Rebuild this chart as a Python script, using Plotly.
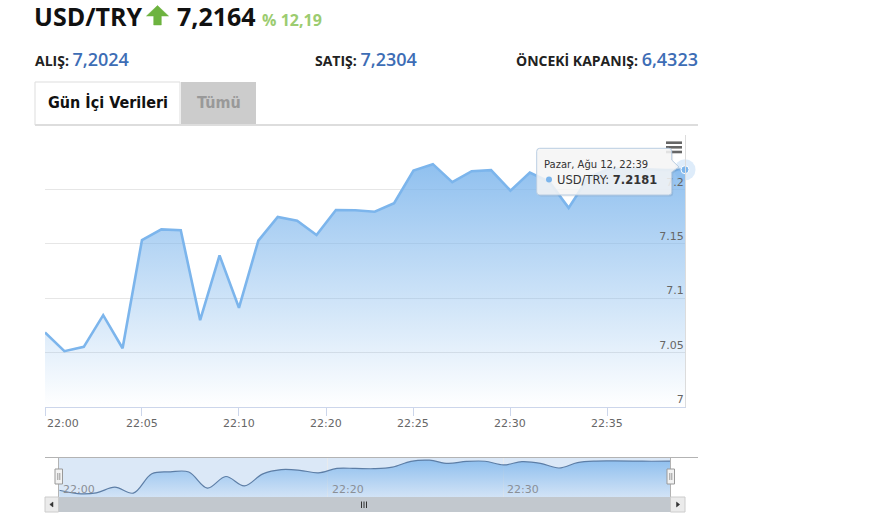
import numpy as np
import plotly.graph_objects as go

W, H = 880, 515

# ---------------- data ----------------
pair = "USD/TRY"
last_price = "7,2164"
change_pct = "% 12,19"
bid_label, bid_value = "ALIŞ:", "7,2024"
ask_label, ask_value = "SATIŞ:", "7,2304"
prev_label, prev_value = "ÖNCEKİ KAPANIŞ:", "6,4323"
tab_labels = ["Gün İçi Verileri", "Tümü"]
tooltip_day = "Pazar, Ağu 12"
series_name = "USD/TRY"

times = ["22:00", "22:01", "22:02", "22:03", "22:04", "22:05", "22:06", "22:07",
         "22:08", "22:09", "22:10", "22:11", "22:12", "22:13", "22:19", "22:21",
         "22:22", "22:23", "22:24", "22:25", "22:26", "22:27", "22:28", "22:29",
         "22:30", "22:31", "22:32", "22:33", "22:34", "22:35", "22:36", "22:37",
         "22:38", "22:39"]
values = [7.0685, 7.0513, 7.0553, 7.0844, 7.0540, 7.1535, 7.1633, 7.1624,
          7.0798, 7.1394, 7.0912, 7.1529, 7.1747, 7.1713, 7.1581, 7.1811,
          7.1809, 7.1795, 7.1873, 7.2173, 7.2232, 7.2066, 7.2167, 7.2177,
          7.1989, 7.2155, 7.2070, 7.1830, 7.2105, 7.2185, 7.2192, 7.2188,
          7.2178, 7.2181]
x_tick_labels = ["22:00", "22:05", "22:10", "22:20", "22:25", "22:30", "22:35"]
nav_tick_labels = ["22:00", "22:20", "22:30"]
y_tick_vals = [7.0, 7.05, 7.1, 7.15, 7.2, 7.25]
y_tick_text = ["7", "7.05", "7.1", "7.15", "7.2", ""]

# ordinal axis: position = point index, labels interpolated in time
idx = np.arange(len(times))
def mins(t):
    h, m = t.split(":")
    return int(h) * 60 + int(m)
tmin = np.array([mins(t) for t in times])
x_tick_pos = np.interp([mins(t) for t in x_tick_labels], tmin, idx)
nav_tick_pos = np.interp([mins(t) for t in nav_tick_labels], tmin, idx)

# ---------------- helpers ----------------
def X(px):
    return px / W

def Y(py):
    return 1 - py / H

def pt(x, y):
    return f"{X(x):.5f},{Y(y):.5f}"

def path(points, closed=True):
    s = "M" + pt(*points[0]) + "".join(" L" + pt(*p) for p in points[1:])
    return s + (" Z" if closed else "")

AX_FONT = "DejaVu Sans, Verdana, sans-serif"
HEAD_FONT = "Open Sans, Noto Sans, sans-serif"
TAB_FONT = "Liberation Sans Narrow, DejaVu Sans Condensed, Roboto, sans-serif"
BLUE = "#7cb5ec"

fig = go.Figure()

# main area series
fig.add_trace(go.Scatter(
    x=idx, y=values, mode="lines", xaxis="x", yaxis="y",
    line=dict(color=BLUE, width=2.6),
    fill="tozeroy",
    fillgradient=dict(type="vertical",
                      colorscale=[[0, "rgba(124,181,236,0)"], [1, "rgba(124,181,236,0.95)"]],
                      start=7.0, stop=7.25),
    hoverinfo="skip", showlegend=False))

# navigator series
fig.add_trace(go.Scatter(
    x=idx, y=values, mode="lines", xaxis="x2", yaxis="y2",
    line=dict(color="#5d7ea6", width=1.2, shape="spline", smoothing=1),
    fill="tozeroy",
    fillgradient=dict(type="vertical",
                      colorscale=[[0, "rgba(124,181,236,0.1)"], [1, "rgba(124,181,236,0.85)"]],
                      start=7.034, stop=7.237),
    hoverinfo="skip", showlegend=False))

# hovered point (last point)
fig.add_trace(go.Scatter(
    x=[idx[-1]], y=[values[-1]], mode="markers", xaxis="x", yaxis="y",
    marker=dict(size=21, color="rgba(124,181,236,0.25)"),
    cliponaxis=False, hoverinfo="skip", showlegend=False))
fig.add_trace(go.Scatter(
    x=[idx[-1]], y=[values[-1]], mode="markers", xaxis="x", yaxis="y",
    marker=dict(size=8, color=BLUE, line=dict(color="white", width=1)),
    cliponaxis=False, hoverinfo="skip", showlegend=False))

shapes = []
annotations = []

# ---------------- header ----------------
annotations.append(dict(xref="paper", yref="paper", x=X(33), y=Y(16), xanchor="left", yanchor="middle",
                        text=f"<b>{pair}</b>", showarrow=False, borderpad=0,
                        font=dict(family=HEAD_FONT, size=25, color="#111")))
shapes.append(dict(type="path", xref="paper", yref="paper", fillcolor="#6db33f",
                   line=dict(color="#6db33f", width=0.5),
                   path=path([(157.5, 5.5), (168.5, 16), (161.3, 16), (161.3, 25),
                              (153.7, 25), (153.7, 16), (146.5, 16)])))
annotations.append(dict(xref="paper", yref="paper", x=X(176), y=Y(16), xanchor="left", yanchor="middle",
                        text=f"<b>{last_price}</b> <span style='font-size:16px;color:#9ccc70'><b>{change_pct}</b></span>",
                        showarrow=False, borderpad=0, font=dict(family=HEAD_FONT, size=25, color="#111")))

def info(x, label, value):
    annotations.append(dict(xref="paper", yref="paper", x=X(x), y=Y(59), xanchor="left", yanchor="middle",
                            text=f"<b>{label}</b> <span style='font-size:18px;color:#3d6db5;font-weight:600'>{value}</span>",
                            showarrow=False, font=dict(family=HEAD_FONT, size=14, color="#222")))
info(33, bid_label, bid_value)
info(313, ask_label, ask_value)
info(514, prev_label, prev_value)

# ---------------- tabs ----------------
shapes.append(dict(type="rect", xref="paper", yref="paper", x0=X(35), x1=X(180), y0=Y(125), y1=Y(82),
                   fillcolor="white", line=dict(color="#dddddd", width=1)))
shapes.append(dict(type="rect", xref="paper", yref="paper", x0=X(181), x1=X(256), y0=Y(125), y1=Y(82),
                   fillcolor="#cccccc", line=dict(width=0)))
shapes.append(dict(type="line", xref="paper", yref="paper", x0=X(35), x1=X(698), y0=Y(125), y1=Y(125),
                   line=dict(color="#dddddd", width=2)))
annotations.append(dict(xref="paper", yref="paper", x=X(107.5), y=Y(103), xanchor="center", yanchor="middle",
                        text=f"<b>{tab_labels[0]}</b>", showarrow=False,
                        font=dict(family=TAB_FONT, size=16, color="#111")))
annotations.append(dict(xref="paper", yref="paper", x=X(218.5), y=Y(103), xanchor="center", yanchor="middle",
                        text=f"<b>{tab_labels[1]}</b>", showarrow=False,
                        font=dict(family=TAB_FONT, size=16, color="#999999")))

# ---------------- main x labels ----------------
for i, (lab, pos) in enumerate(zip(x_tick_labels, x_tick_pos)):
    annotations.append(dict(xref="x", yref="paper", x=pos, y=Y(423), xanchor="left" if i == 0 else "center",
                            yanchor="middle", text=lab, showarrow=False,
                            font=dict(family=AX_FONT, size=11, color="#666666")))

# ---------------- menu icon ----------------
for yy in (142.7, 147.3, 152):
    shapes.append(dict(type="line", xref="paper", yref="paper", x0=X(666), x1=X(682), y0=Y(yy), y1=Y(yy),
                       line=dict(color="#666666", width=2.6)))

# ---------------- navigator ----------------
shapes.append(dict(type="rect", xref="paper", yref="paper", layer="below", x0=X(58.5), x1=X(670.5),
                   y0=Y(497), y1=Y(457.5), fillcolor="#dbe8f7", line=dict(width=0)))
shapes.append(dict(type="line", xref="paper", yref="paper", x0=X(45), x1=X(698), y0=Y(457.5), y1=Y(457.5),
                   line=dict(color="#b3b3b3", width=1)))
for xx in (58.5, 670.5):
    shapes.append(dict(type="line", xref="paper", yref="paper", x0=X(xx), x1=X(xx), y0=Y(457.5), y1=Y(497),
                       line=dict(color="#b3b3b3", width=1)))
for hx in (55, 667):
    shapes.append(dict(type="rect", xref="paper", yref="paper", x0=X(hx), x1=X(hx + 7.5), y0=Y(484), y1=Y(469),
                       fillcolor="#f2f2f2", line=dict(color="#999999", width=1)))
    for lx in (hx + 2.8, hx + 4.8):
        shapes.append(dict(type="line", xref="paper", yref="paper", x0=X(lx), x1=X(lx), y0=Y(473), y1=Y(480),
                           line=dict(color="#999999", width=1)))
for lab, pos in zip(nav_tick_labels, nav_tick_pos):
    annotations.append(dict(xref="x2", yref="paper", x=pos, y=Y(489), xanchor="left", xshift=2,
                            yanchor="middle", text=lab, showarrow=False,
                            font=dict(family=AX_FONT, size=11, color="#8a8f96")))

# ---------------- scrollbar ----------------
shapes.append(dict(type="rect", xref="paper", yref="paper", x0=X(58.5), x1=X(670.5), y0=Y(512), y1=Y(497),
                   fillcolor="#c2c8ce", line=dict(width=0)))
for bx0, bx1 in ((45, 58.5), (670.5, 685)):
    shapes.append(dict(type="rect", xref="paper", yref="paper", x0=X(bx0), x1=X(bx1), y0=Y(512), y1=Y(497),
                       fillcolor="#ebebeb", line=dict(color="#cccccc", width=1)))
shapes.append(dict(type="path", xref="paper", yref="paper", fillcolor="#333333",
                   line=dict(color="#333333", width=0.5),
                   path=path([(53, 502), (49.8, 504.5), (53, 507)])))
shapes.append(dict(type="path", xref="paper", yref="paper", fillcolor="#333333",
                   line=dict(color="#333333", width=0.5),
                   path=path([(676.5, 502), (679.7, 504.5), (676.5, 507)])))
for gx in (361.5, 364, 366.5):
    shapes.append(dict(type="line", xref="paper", yref="paper", x0=X(gx), x1=X(gx), y0=Y(501.5), y1=Y(508),
                       line=dict(color="#333333", width=1)))

# ---------------- tooltip ----------------
tx0, ty0, tx1, ty1, r = 536.7, 148.3, 671.7, 195, 3
def tip_path(dx, dy):
    a, b, c, d = tx0 + dx, ty0 + dy, tx1 + dx, ty1 + dy
    s = ("M" + pt(a + r, b) + " L" + pt(c - r, b) + " Q" + pt(c, b) + " " + pt(c, b + r) +
         " L" + pt(c, 160 + dy) + " L" + pt(679 + dx, 167 + dy) + " L" + pt(c, 172 + dy) +
         " L" + pt(c, d - r) + " Q" + pt(c, d) + " " + pt(c - r, d) + " L" + pt(a + r, d) +
         " Q" + pt(a, d) + " " + pt(a, d - r) + " L" + pt(a, b + r) + " Q" + pt(a, b) + " " + pt(a + r, b) + " Z")
    return s
shapes.append(dict(type="path", xref="paper", yref="paper", path=tip_path(1.5, 1.5),
                   fillcolor="rgba(0,0,0,0.07)", line=dict(color="rgba(0,0,0,0)", width=0.5)))
shapes.append(dict(type="path", xref="paper", yref="paper", path=tip_path(0, 0),
                   fillcolor="rgba(247,247,247,0.86)", line=dict(color="#b9cde2", width=1)))
shapes.append(dict(type="circle", xref="paper", yref="paper", x0=X(546), x1=X(552), y0=Y(182.5), y1=Y(176.5),
                   fillcolor=BLUE, line=dict(width=0)))
annotations.append(dict(xref="paper", yref="paper", x=X(543), y=Y(164.5), xanchor="left", yanchor="middle",
                        text=f"{tooltip_day}, {times[-1]}", showarrow=False, borderpad=0,
                        font=dict(family=AX_FONT, size=10, color="#333333")))
annotations.append(dict(xref="paper", yref="paper", x=X(555.5), y=Y(179.5), xanchor="left", yanchor="middle",
                        text=f"{series_name}: <b>{values[-1]:.4f}</b>", showarrow=False, borderpad=0,
                        font=dict(family=AX_FONT, size=11.5, color="#333333")))

fig.update_layout(
    width=W, height=H, autosize=False,
    margin=dict(l=0, r=0, t=0, b=0),
    paper_bgcolor="white", plot_bgcolor="rgba(0,0,0,0)",
    showlegend=False,
    xaxis=dict(domain=[X(45), X(685)], range=[0, len(times) - 1], anchor="y",
               tickvals=list(x_tick_pos), showticklabels=False, ticks="outside", ticklen=8,
               tickcolor="#ccd6eb", showline=True, linecolor="#ccd6eb", linewidth=1,
               showgrid=False, zeroline=False, fixedrange=True),
    yaxis=dict(domain=[Y(407), Y(135)], range=[7.0, 7.25], anchor="x", side="right",
               tickvals=y_tick_vals, ticktext=y_tick_text, ticklabelposition="inside top",
               tickfont=dict(family=AX_FONT, size=11, color="#666666"),
               gridcolor="#e6e6e6", gridwidth=1, showline=True, linecolor="#dcdcdc",
               ticks="", zeroline=False, fixedrange=True),
    xaxis2=dict(domain=[X(59.3), X(670)], range=[0, len(times) - 1], anchor="y2",
                tickvals=list(nav_tick_pos), showticklabels=False, ticks="",
                showgrid=True, gridcolor="rgba(235,235,235,0.8)", showline=False, zeroline=False,
                fixedrange=True),
    yaxis2=dict(domain=[Y(497), Y(457.5)], range=[7.034, 7.237], anchor="x2",
                showgrid=False, showticklabels=False, showline=False, zeroline=False, ticks="",
                fixedrange=True),
    shapes=shapes,
    annotations=annotations,
)

fig.write_html("out.html", config={"displayModeBar": False, "staticPlot": True},
               post_script="document.body.style.margin='0';document.body.style.overflow='hidden';")
